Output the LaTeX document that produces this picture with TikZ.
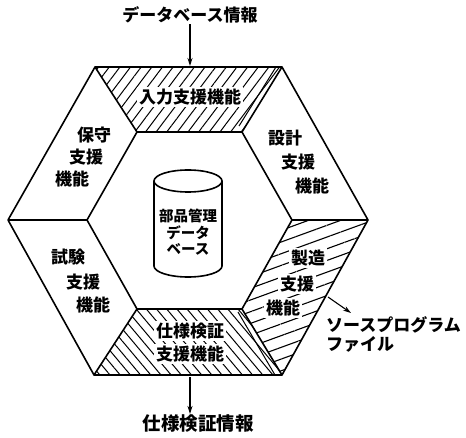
\documentclass[tikz,border=0pt]{standalone}
\usepackage{fontspec}
\setmainfont{Noto Sans CJK JP}
\usetikzlibrary{patterns.meta,arrows.meta}
\tikzset{
  edge/.style={line width=1.6pt, line join=round},
  lbl/.style={font=\fontsize{17}{19}\selectfont\bfseries, inner sep=1pt},
  hlbl/.style={lbl, fill=white, inner sep=2pt},
  dblbl/.style={font=\fontsize{14.5}{16}\selectfont\bfseries, inner sep=0pt},
  arr/.style={-{Stealth[length=8pt,width=5pt]}, line width=1.1pt},
  hatchline/.style={line width=1pt}
}
\begin{document}
\begin{tikzpicture}[x=1pt,y=-1pt]
\useasboundingbox (0,0) rectangle (466,438);
% outer hexagon
\coordinate (oTL) at (95,67);
\coordinate (oTR) at (282,67);
\coordinate (oR) at (368,220);
\coordinate (oBR) at (282,375);
\coordinate (oBL) at (94,375);
\coordinate (oL) at (8,220);
% inner hexagon
\coordinate (iTL) at (137,132);
\coordinate (iTR) at (242,132);
\coordinate (iR) at (292,220);
\coordinate (iBR) at (242,309);
\coordinate (iBL) at (137,309);
\coordinate (iL) at (87,220);
% hatching
\fill[pattern={Lines[angle=53,distance=8.5pt,line width=1pt]}] (oTL)--(oTR)--(iTR)--(iTL)--cycle;
\fill[pattern={Lines[angle=20,distance=11pt,line width=1.1pt]}] (iR)--(oR)--(oBR)--(iBR)--cycle;
\fill[pattern={Lines[angle=-50,distance=7.8pt,line width=1pt]}] (iBL)--(iBR)--(oBR)--(oBL)--cycle;
\draw[hatchline] ([xshift=-6pt]oTR) -- ([xshift=-3pt,yshift=6pt]iTR);
\draw[hatchline] ([xshift=-4pt,yshift=-3pt]iBR) -- ([xshift=-7pt]oBR);
% outlines
\draw[edge] (oTL)--(oTR)--(oR)--(oBR)--(oBL)--(oL)--cycle;
\draw[edge] (iTL)--(iTR)--(iR)--(iBR)--(iBL)--(iL)--cycle;
\draw[edge] (oTL)--(iTL) (oTR)--(iTR) (oR)--(iR) (oBR)--(iBR) (oBL)--(iBL) (oL)--(iL);
\draw[line width=2.4pt] (oBL)--(oBR);
% cylinder
\draw[edge] (188,181) ellipse[x radius=34, y radius=11];
\draw[edge] (154,181) -- (154,266) arc[start angle=180, end angle=0, x radius=34, y radius=11] -- (222,181);
\node[dblbl] (db1) at (188,216) {部品管理};
\node[dblbl] (db2) at (188,233) {データ};
\node[dblbl] (db3) at (188,249) {ベース};
% segment labels
\node[hlbl] (inp) at (190,97) {入力支援機能};
\node[lbl] (mnt1) at (94,135) {保守};
\node[lbl] (mnt2) at (86,157) {支援};
\node[lbl] (mnt3) at (72,179) {機能};
\node[lbl] (dsg1) at (285,138) {設計};
\node[lbl] (dsg2) at (298,162) {支援};
\node[lbl] (dsg3) at (312,186) {機能};
\node[hlbl] (mfg1) at (308,258) {製造};
\node[hlbl] (mfg2) at (297,284) {支援};
\node[hlbl] (mfg3) at (283,308) {機能};
\node[lbl] (tst1) at (68,257) {試験};
\node[lbl] (tst2) at (83,282) {支援};
\node[lbl] (tst3) at (93,305) {機能};
\node[hlbl] (spc1) at (190,331) {仕様検証};
\node[hlbl] (spc2) at (190,354) {支援機能};
% external labels and arrows
\node[lbl] (dbinfo) at (190,15) {データベース情報};
\coordinate (topin) at (190,66);
\draw[arr] (dbinfo) -- (topin);
\node[lbl, font=\fontsize{18.5}{20}\selectfont\bfseries] (specinfo) at (198,424) {仕様検証情報};
\coordinate (botout) at (190,377);
\draw[arr] (botout) -- (botout |- specinfo.north);
\node[lbl, anchor=west] (src1) at (325,325) {ソースプログラム};
\node[lbl, anchor=west] (src2) at (325,344) {ファイル};
\coordinate (srcfrom) at (328,297);
\coordinate (srcto) at (351,313);
\draw[arr] (srcfrom) -- (srcto);
\end{tikzpicture}
\end{document}
